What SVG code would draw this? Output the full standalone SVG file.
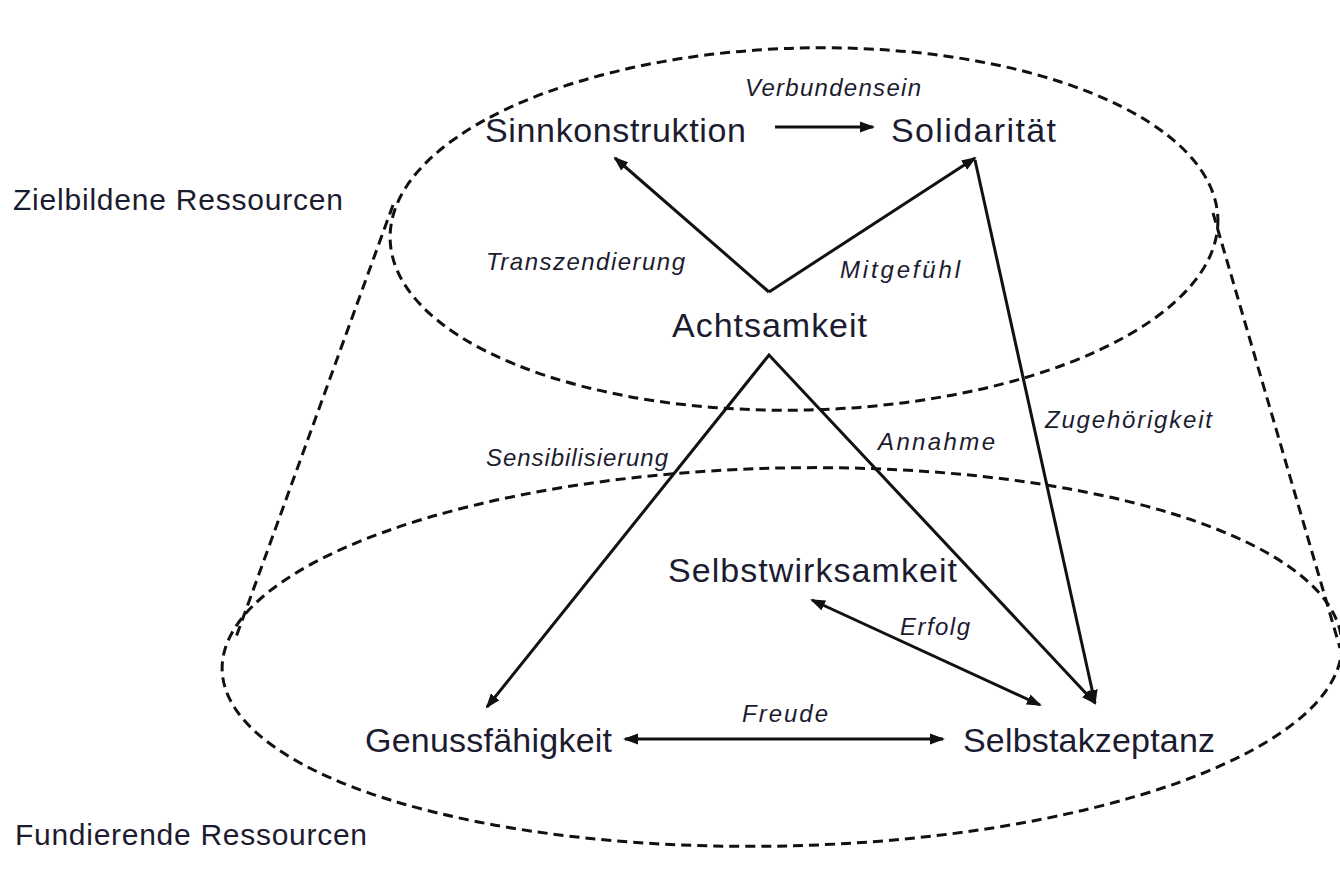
<svg xmlns="http://www.w3.org/2000/svg" width="1340" height="879" viewBox="0 0 1340 879">
<style>
.node{font-family:"Liberation Sans",Arial,sans-serif;font-size:34px;fill:#1c1c30}
.lbl{font-family:"Liberation Sans",Arial,sans-serif;font-size:24px;font-style:italic;fill:#1c1c30}
.side{font-family:"Liberation Sans",Arial,sans-serif;font-size:30px;fill:#1c1c30}
.dash{fill:none;stroke:#111;stroke-width:3;stroke-dasharray:10 6}
.edge{fill:none;stroke:#111;stroke-width:3}
</style>
<defs>
<marker id="ah" markerUnits="userSpaceOnUse" markerWidth="16" markerHeight="12" refX="13" refY="6" orient="auto-start-reverse" viewBox="0 0 16 12">
<path d="M0,0.5 L15,6 L0,11.5 z" fill="#111"/>
</marker>
</defs>
<rect width="1340" height="879" fill="#fff"/>
<g id="outline">
<ellipse class="dash" cx="804" cy="229" rx="414" ry="181" transform="rotate(-1.4 804 229)"/>
<ellipse class="dash" cx="782" cy="657" rx="560" ry="189" transform="rotate(-1.3 782 657)"/>
<line class="dash" x1="393" y1="205" x2="235" y2="640"/>
<line class="dash" x1="1213" y1="213" x2="1340" y2="648"/>
</g>
<g id="connectors">
<line class="edge" x1="775" y1="127" x2="873" y2="127" marker-end="url(#ah)"/>
<line class="edge" x1="769" y1="292" x2="615" y2="158" marker-end="url(#ah)"/>
<line class="edge" x1="769" y1="292" x2="975" y2="158" marker-end="url(#ah)"/>
<line class="edge" x1="975" y1="160" x2="1095" y2="703" marker-end="url(#ah)"/>
<polyline class="edge" points="487,707 769,355 1095,703" marker-start="url(#ah)" marker-end="url(#ah)"/>
<line class="edge" x1="812" y1="600" x2="1040" y2="705" marker-start="url(#ah)" marker-end="url(#ah)"/>
<line class="edge" x1="625" y1="739" x2="943" y2="739" marker-start="url(#ah)" marker-end="url(#ah)"/>
</g>
<g id="edge-labels">
<text class="lbl" x="745" y="96" textLength="176">Verbundensein</text>
<text class="lbl" x="486" y="270" textLength="199">Transzendierung</text>
<text class="lbl" x="840" y="278" textLength="120">Mitgefühl</text>
<text class="lbl" x="486" y="466" textLength="182">Sensibilisierung</text>
<text class="lbl" x="878" y="450" textLength="117">Annahme</text>
<text class="lbl" x="1045" y="428" textLength="167">Zugehörigkeit</text>
<text class="lbl" x="900" y="635" textLength="70">Erfolg</text>
<text class="lbl" x="742" y="722" textLength="86">Freude</text>
</g>
<g id="sinnkonstruktion"><text class="node" x="485" y="142" textLength="261">Sinnkonstruktion</text></g>
<g id="solidaritaet"><text class="node" x="891" y="142" textLength="165">Solidarität</text></g>
<g id="achtsamkeit"><text class="node" x="672" y="337" textLength="195">Achtsamkeit</text></g>
<g id="selbstwirksamkeit"><text class="node" x="668" y="582" textLength="289">Selbstwirksamkeit</text></g>
<g id="genussfaehigkeit"><text class="node" x="365" y="752" textLength="247">Genussfähigkeit</text></g>
<g id="selbstakzeptanz"><text class="node" x="963" y="752" textLength="252">Selbstakzeptanz</text></g>
<g id="zielbildende"><text class="side" x="13" y="210" textLength="330">Zielbildene Ressourcen</text></g>
<g id="fundierende"><text class="side" x="15" y="845" textLength="352">Fundierende Ressourcen</text></g>
</svg>
